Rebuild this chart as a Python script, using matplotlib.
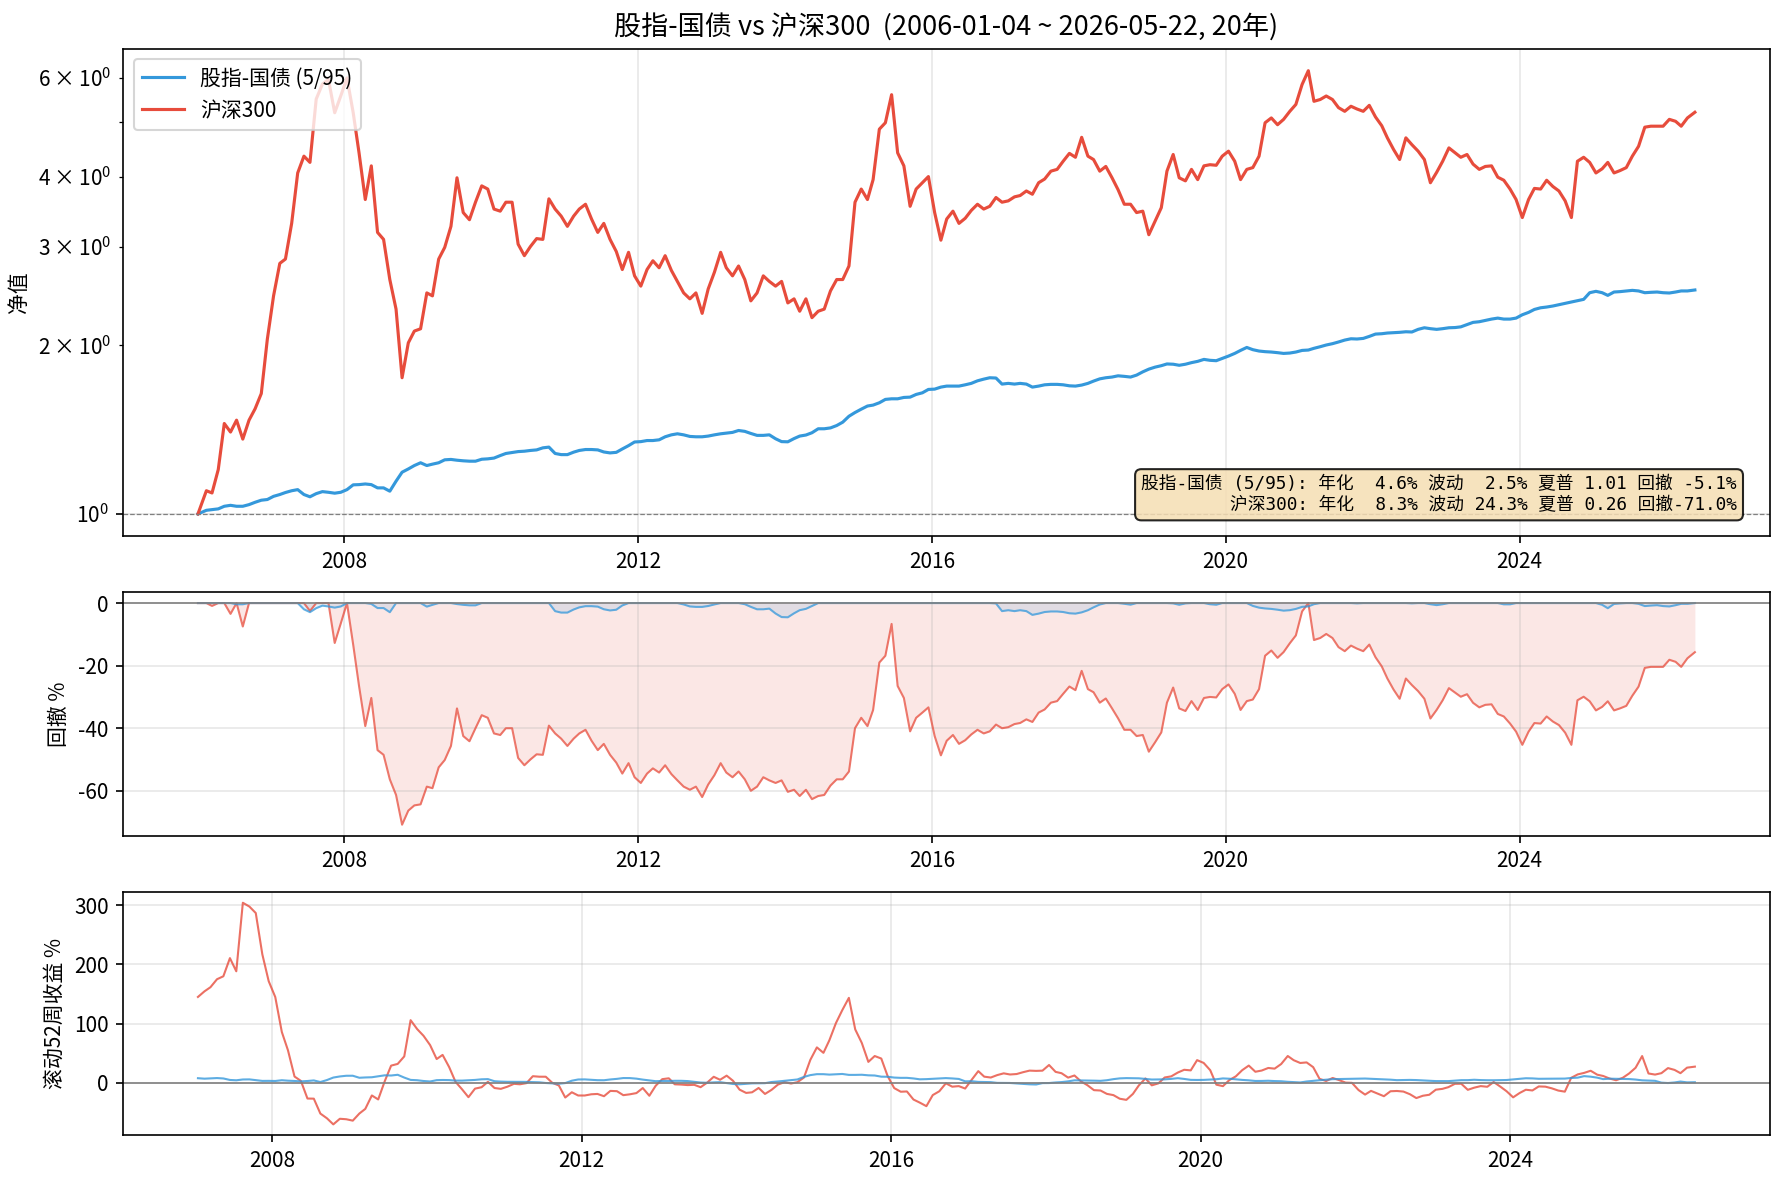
import numpy as np
import pandas as pd
import matplotlib
matplotlib.use("Agg")
import matplotlib.pyplot as plt

plt.rcParams['font.family'] = ['Noto Sans CJK SC', 'DejaVu Sans']
plt.rcParams['axes.unicode_minus'] = False

# 月度净值（2006-01 ~ 2026-05，读图估计）
csi300_nv = [
    1.00, 1.10, 1.09, 1.20, 1.45, 1.40, 1.47, 1.36, 1.47, 1.54, 1.64, 2.05,
    2.45, 2.80, 2.85, 3.30, 4.06, 4.35, 4.24, 5.50, 5.85, 5.96, 5.20, 5.57,
    6.00, 5.20, 4.41, 3.64, 4.18, 3.18, 3.09, 2.62, 2.32, 1.75, 2.02, 2.12,
    2.14, 2.48, 2.45, 2.85, 2.99, 3.26, 3.98, 3.45, 3.35, 3.60, 3.85, 3.80,
    3.50, 3.47, 3.60, 3.60, 3.03, 2.89, 3.00, 3.10, 3.09, 3.65, 3.50, 3.40,
    3.26, 3.40, 3.50, 3.57, 3.36, 3.18, 3.30, 3.09, 2.94, 2.73, 2.93, 2.66,
    2.55, 2.73, 2.83, 2.75, 2.89, 2.72, 2.60, 2.48, 2.42, 2.48, 2.28, 2.52,
    2.70, 2.93, 2.75, 2.66, 2.77, 2.62, 2.40, 2.48, 2.66, 2.60, 2.55, 2.60,
    2.38, 2.42, 2.30, 2.42, 2.24, 2.30, 2.32, 2.50, 2.62, 2.62, 2.77, 3.60,
    3.80, 3.64, 3.95, 4.86, 4.99, 5.60, 4.41, 4.18, 3.54, 3.80, 3.90, 4.00,
    3.45, 3.08, 3.36, 3.47, 3.30, 3.37, 3.48, 3.57, 3.50, 3.54, 3.67, 3.60,
    3.62, 3.68, 3.70, 3.77, 3.72, 3.90, 3.96, 4.09, 4.12, 4.26, 4.40, 4.33,
    4.70, 4.35, 4.29, 4.09, 4.17, 3.98, 3.79, 3.57, 3.57, 3.45, 3.47, 3.15,
    3.33, 3.52, 4.09, 4.38, 3.98, 3.93, 4.12, 3.95, 4.18, 4.20, 4.19, 4.35,
    4.44, 4.26, 3.95, 4.12, 4.15, 4.35, 4.99, 5.09, 4.95, 5.06, 5.23, 5.38,
    5.84, 6.18, 5.45, 5.49, 5.57, 5.49, 5.31, 5.23, 5.34, 5.28, 5.23, 5.36,
    5.11, 4.93, 4.69, 4.47, 4.29, 4.69, 4.56, 4.44, 4.29, 3.90, 4.07, 4.26,
    4.50, 4.41, 4.33, 4.38, 4.21, 4.12, 4.17, 4.18, 3.99, 3.94, 3.80, 3.64,
    3.38, 3.64, 3.81, 3.80, 3.94, 3.84, 3.77, 3.62, 3.38, 4.26, 4.33, 4.24,
    4.06, 4.13, 4.24, 4.06, 4.10, 4.15, 4.35, 4.53, 4.90, 4.92, 4.92, 4.92,
    5.06, 5.02, 4.92, 5.09, 5.21,
]
blend_nv = [
    1.000, 1.015, 1.018, 1.021, 1.032, 1.036, 1.032, 1.032, 1.039, 1.049, 1.058, 1.061,
    1.075, 1.083, 1.092, 1.100, 1.105, 1.083, 1.073, 1.087, 1.096, 1.093, 1.089, 1.093,
    1.105, 1.127, 1.128, 1.131, 1.128, 1.113, 1.113, 1.098, 1.144, 1.187, 1.203, 1.220,
    1.234, 1.220, 1.227, 1.234, 1.249, 1.251, 1.247, 1.244, 1.242, 1.242, 1.252, 1.254,
    1.258, 1.271, 1.282, 1.287, 1.292, 1.294, 1.298, 1.301, 1.312, 1.316, 1.282, 1.276,
    1.276, 1.289, 1.298, 1.303, 1.303, 1.301, 1.290, 1.285, 1.288, 1.306, 1.324, 1.344,
    1.346, 1.352, 1.352, 1.356, 1.373, 1.384, 1.390, 1.384, 1.375, 1.373, 1.373, 1.377,
    1.384, 1.390, 1.394, 1.398, 1.409, 1.404, 1.392, 1.381, 1.381, 1.384, 1.362, 1.346,
    1.345, 1.363, 1.377, 1.383, 1.396, 1.419, 1.419, 1.424, 1.438, 1.458, 1.494, 1.517,
    1.538, 1.558, 1.564, 1.579, 1.601, 1.605, 1.605, 1.614, 1.616, 1.634, 1.645, 1.668,
    1.670, 1.684, 1.691, 1.691, 1.691, 1.700, 1.710, 1.728, 1.740, 1.750, 1.748, 1.705,
    1.710, 1.705, 1.710, 1.705, 1.684, 1.691, 1.700, 1.703, 1.703, 1.700, 1.693, 1.691,
    1.698, 1.710, 1.726, 1.742, 1.750, 1.755, 1.764, 1.760, 1.755, 1.769, 1.793, 1.813,
    1.828, 1.839, 1.852, 1.850, 1.842, 1.850, 1.862, 1.872, 1.887, 1.880, 1.877, 1.895,
    1.913, 1.934, 1.958, 1.982, 1.964, 1.953, 1.948, 1.945, 1.940, 1.934, 1.937, 1.945,
    1.958, 1.961, 1.975, 1.988, 2.002, 2.013, 2.027, 2.043, 2.054, 2.052, 2.057, 2.074,
    2.094, 2.097, 2.103, 2.106, 2.109, 2.114, 2.112, 2.135, 2.149, 2.141, 2.135, 2.141,
    2.149, 2.151, 2.157, 2.177, 2.197, 2.203, 2.215, 2.227, 2.236, 2.227, 2.227, 2.236,
    2.267, 2.289, 2.317, 2.333, 2.340, 2.350, 2.363, 2.376, 2.389, 2.402, 2.415, 2.482,
    2.496, 2.482, 2.455, 2.489, 2.493, 2.500, 2.506, 2.500, 2.482, 2.486, 2.489, 2.482,
    2.479, 2.489, 2.500, 2.500, 2.510,
]

start_date = "2006-01-04"
end_date = "2026-05-22"
blend_label = "股指-国债 (5/95)"
index_label = "沪深300"
stats_lines = [
    "股指-国债 (5/95): 年化  4.6% 波动  2.5% 夏普 1.01 回撤 -5.1%",
    "沪深300: 年化  8.3% 波动 24.3% 夏普 0.26 回撤-71.0%",
]

c_blend = "#3498db"
c_index = "#e74c3c"

# 日期：首尾为实际起止日，其余取每月中旬
dates = pd.date_range("2006-01-01", periods=len(csi300_nv), freq="MS") + pd.Timedelta(days=14)
dates = dates.to_series().reset_index(drop=True)
dates.iloc[0] = pd.Timestamp(start_date)
dates.iloc[-1] = pd.Timestamp(end_date)

nv = pd.DataFrame({"blend": blend_nv, "index": csi300_nv}, index=pd.DatetimeIndex(dates))
dd = (nv / nv.cummax() - 1) * 100
roll = (nv / nv.shift(12) - 1) * 100
roll = roll.dropna()

fig = plt.figure(figsize=(1784 / 150, 1184 / 150), dpi=150)
gs = fig.add_gridspec(3, 1, height_ratios=[2, 1, 1], left=0.069, right=0.992,
                      top=0.959, bottom=0.041, hspace=0.172)
ax1 = fig.add_subplot(gs[0])
ax2 = fig.add_subplot(gs[1], sharex=ax1)
ax3 = fig.add_subplot(gs[2])

# 净值
ax1.plot(nv.index, nv["blend"], color=c_blend, lw=1.5, label=blend_label)
ax1.plot(nv.index, nv["index"], color=c_index, lw=1.5, label=index_label)
ax1.set_yscale("log")
ax1.axhline(1.0, color="gray", ls="--", lw=0.6)
ax1.set_ylabel("净值", fontsize=10)
ax1.set_title(f"股指-国债 vs 沪深300  ({start_date} ~ {end_date}, 20年)", fontsize=13)
ax1.legend(loc="upper left", fontsize=10)
ax1.grid(alpha=0.3)
ax1.text(0.98, 0.045, "\n".join(stats_lines), transform=ax1.transAxes,
         ha="right", va="bottom", fontsize=8.5, multialignment="right",
         family=["DejaVu Sans Mono", "Noto Sans CJK SC"],
         bbox=dict(boxstyle="round,pad=0.35", facecolor="wheat", alpha=0.85))

# 回撤
ax2.fill_between(dd.index, dd["index"], 0, color=c_index, alpha=0.13, lw=0)
ax2.fill_between(dd.index, dd["blend"], 0, color=c_blend, alpha=0.13, lw=0)
ax2.plot(dd.index, dd["index"], color=c_index, lw=1, alpha=0.75)
ax2.plot(dd.index, dd["blend"], color=c_blend, lw=1, alpha=0.75)
ax2.axhline(0, color="gray", lw=0.8)
ax2.set_ylabel("回撤 %", fontsize=10)
ax2.grid(alpha=0.3)

# 滚动52周收益
ax3.plot(roll.index, roll["index"], color=c_index, lw=1, alpha=0.8)
ax3.plot(roll.index, roll["blend"], color=c_blend, lw=1, alpha=0.8)
ax3.axhline(0, color="gray", lw=0.8)
ax3.set_ylabel("滚动52周收益 %", fontsize=10)
ax3.grid(alpha=0.3)

for ax in (ax1, ax2, ax3):
    ax.tick_params(labelsize=10)

fig.savefig("out.png", dpi=150)
